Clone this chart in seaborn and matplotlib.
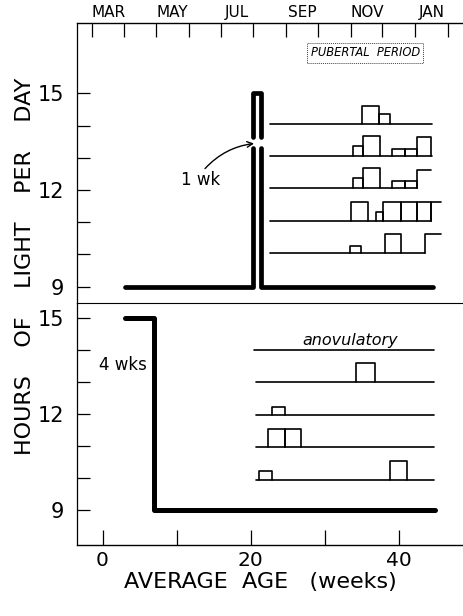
import matplotlib
matplotlib.use("Agg")
import matplotlib.pyplot as plt
import pandas as pd
import seaborn as sns

# ---- light schedules (age in weeks, hours of light per day) ----
short_day = 9
long_day = 15

pulse_start = 3.0        # start of short days, upper group
pulse_on = 20.3          # one-week long-day pulse
pulse_off = 21.45
pulse_end = 44.7
pulse_gap = (13.3, 13.65)

step_start = 3.0         # four weeks of long days, lower group
step_down = 7.0
step_end = 44.9

# ---- individual records: baselines and cycles (start, end, height) ----
upper_rows_y = [14.05, 13.05, 12.05, 11.05, 10.05]
upper_rows_start = [22.6, 22.6, 22.6, 22.6, 22.6]
upper_rows_end = [44.5, 44.5, 42.5, 44.4, 43.6]
upper_cycles = [
    [(35.1, 37.3, 0.57), (37.3, 38.9, 0.31)],
    [(33.8, 35.2, 0.31), (35.2, 37.5, 0.62), (39.1, 40.9, 0.22),
     (40.9, 42.5, 0.22), (42.5, 44.4, 0.59)],
    [(33.8, 35.2, 0.31), (35.2, 37.5, 0.62), (39.1, 40.9, 0.22),
     (40.9, 42.5, 0.22)],
    [(33.6, 35.9, 0.57), (37.0, 37.9, 0.28), (37.9, 40.4, 0.57),
     (40.4, 42.5, 0.57), (42.5, 44.4, 0.57)],
    [(33.4, 34.9, 0.22), (38.2, 40.3, 0.57)],
]
upper_open = [None, None, (42.5, 44.4, 0.57), (44.4, 45.7, 0.57),
              (43.6, 45.7, 0.57)]

lower_rows_y = [14.0, 13.0, 11.97, 10.96, 9.95]
lower_rows_start = [20.5, 20.8, 20.8, 20.8, 20.8]
lower_rows_end = [44.8, 44.8, 44.8, 44.8, 44.8]
lower_cycles = [
    [],
    [(34.3, 36.8, 0.58)],
    [(22.9, 24.6, 0.26)],
    [(22.4, 24.6, 0.56), (24.6, 26.8, 0.56)],
    [(21.2, 22.9, 0.26), (38.8, 41.2, 0.57)],
]

# ---- axis labels ----
month_names = ["MAR", "MAY", "JUL", "SEP", "NOV", "JAN"]
month_days = [31, 30, 31, 30, 31, 31, 30, 31, 30, 31, 31]  # Mar .. Jan
mar_first_week = -1.46
week_ticks = [0, 20, 40]
week_minor = [10, 30]
hour_ticks = [9, 12, 15]
hour_minor = [10, 11, 13, 14]


def record_paths(rows_y, rows_start, rows_end, cycles, opens):
    recs = []
    for i, y in enumerate(rows_y):
        pid = f"r{i}"
        recs += [(pid + "b", rows_start[i], y), (pid + "b", rows_end[i], y)]
        for j, (s, e, h) in enumerate(cycles[i]):
            k = f"{pid}c{j}"
            recs += [(k, s, y), (k, s, y + h), (k, e, y + h), (k, e, y)]
        if opens is not None and opens[i] is not None:
            s, e, h = opens[i]
            k = pid + "o"
            recs += [(k, s, y), (k, s, y + h), (k, e, y + h)]
    return pd.DataFrame(recs, columns=["path", "week", "hours"])


sns.set_style("ticks")
plt.rcParams.update({
    "font.family": ["DejaVu Sans"],
    "text.color": "black",
    "axes.edgecolor": "black",
    "axes.labelcolor": "black",
    "xtick.color": "black",
    "ytick.color": "black",
})

fig = plt.figure(figsize=(4.64, 6.16), dpi=100)
left, right = 77 / 464, 1.0
ax1 = fig.add_axes([left, 1 - 303 / 616, right - left, (303 - 23) / 616])
ax2 = fig.add_axes([left, 1 - 545 / 616, right - left, (545 - 303) / 616])
for ax in (ax1, ax2):
    ax.patch.set_visible(False)

xlim = (-3.45, 48.85)

# upper panel: schedule with the one-week pulse
sched1 = pd.DataFrame(
    [("a", pulse_start, short_day), ("a", pulse_on, short_day),
     ("a", pulse_on, pulse_gap[0]),
     ("b", pulse_on, pulse_gap[1]), ("b", pulse_on, long_day),
     ("b", pulse_off, long_day), ("b", pulse_off, pulse_gap[1]),
     ("c", pulse_off, pulse_gap[0]), ("c", pulse_off, short_day),
     ("c", pulse_end, short_day)],
    columns=["path", "week", "hours"])
sns.lineplot(data=sched1, x="week", y="hours", units="path", estimator=None,
             sort=False, color="black", lw=3.4, ax=ax1, legend=False)

rec1 = record_paths(upper_rows_y, upper_rows_start, upper_rows_end,
                    upper_cycles, upper_open)
sns.lineplot(data=rec1, x="week", y="hours", units="path", estimator=None,
             sort=False, color="black", lw=1.2, ax=ax1, legend=False)

# lower panel: four weeks of long days then short days
sched2 = pd.DataFrame(
    [("a", step_start, long_day), ("a", step_down, long_day),
     ("a", step_down, short_day), ("a", step_end, short_day)],
    columns=["path", "week", "hours"])
sns.lineplot(data=sched2, x="week", y="hours", units="path", estimator=None,
             sort=False, color="black", lw=3.6, ax=ax2, legend=False)

rec2 = record_paths(lower_rows_y, lower_rows_start, lower_rows_end,
                    lower_cycles, None)
sns.lineplot(data=rec2, x="week", y="hours", units="path", estimator=None,
             sort=False, color="black", lw=1.2, ax=ax2, legend=False)

# ---- axes styling ----
for ax in (ax1, ax2):
    ax.set_xlim(*xlim)
    ax.set_xlabel("")
    ax.set_ylabel("")
    ax.spines["right"].set_visible(False)
    ax.spines["left"].set_linewidth(0.9)
    ax.set_yticks(hour_ticks)
    ax.set_yticks(hour_minor, minor=True)
    ax.set_yticklabels([str(v) for v in hour_ticks])
    ax.tick_params(axis="y", which="both", direction="in", length=9.5,
                   width=0.9, labelsize=15, pad=9)

ax1.set_ylim(8.494, 17.18)
ax2.set_ylim(7.906, 15.47)
ax2.spines["top"].set_visible(False)
ax1.spines["bottom"].set_linewidth(0.8)
ax1.spines["top"].set_linewidth(1.0)
ax2.spines["bottom"].set_linewidth(1.0)

# month scale along the top
month_starts = [mar_first_week]
for d in month_days:
    month_starts.append(month_starts[-1] + d / 7)
mid_months = [month_starts[i] + 15.5 / 7 for i in range(0, 12, 2)]
ax1.xaxis.tick_top()
ax1.set_xticks(month_starts)
ax1.set_xticklabels([])
ax1.set_xticks(mid_months, minor=True)
ax1.set_xticklabels(month_names, minor=True)
ax1.tick_params(axis="x", which="major", direction="in", length=10,
                width=0.9, top=True, bottom=False)
ax1.tick_params(axis="x", which="minor", length=0, top=True, bottom=False,
                labeltop=True, labelbottom=False, labelsize=11, pad=2)

ax2.set_xticks(week_ticks)
ax2.set_xticks(week_minor, minor=True)
ax2.set_xticklabels([str(v) for v in week_ticks])
ax2.tick_params(axis="x", which="both", direction="in", length=10.5,
                width=0.9, labelsize=14.5, pad=4)

# ---- annotations ----
ax1.text(35.5, 16.25, "PUBERTAL  PERIOD", fontsize=8.3, style="italic",
         ha="center", va="center",
         bbox=dict(boxstyle="square,pad=0.3", fc="white", ec="#444444",
                   lw=0.7, ls=(0, (1, 1))))
ax1.text(13.2, 12.31, "1 wk", fontsize=12, ha="center", va="center")
ax1.annotate("", xy=(20.85, 13.45), xytext=(13.6, 12.6),
             arrowprops=dict(arrowstyle="->", color="black", lw=1.0,
                             connectionstyle="arc3,rad=-0.2"))
ax2.text(33.5, 14.31, "anovulatory", fontsize=11.5, style="italic",
         ha="center", va="center")
ax2.text(6.0, 13.53, "4 wks", fontsize=12, ha="right", va="center")

fig.text(25 / 464, 1 - 266 / 616, "HOURS    OF    LIGHT    PER    DAY",
         rotation=90, fontsize=16, ha="center", va="center")
fig.text(260 / 464, 1 - 582 / 616, "AVERAGE  AGE   (weeks)",
         fontsize=16, ha="center", va="center")

fig.savefig("out.png", dpi=100)
